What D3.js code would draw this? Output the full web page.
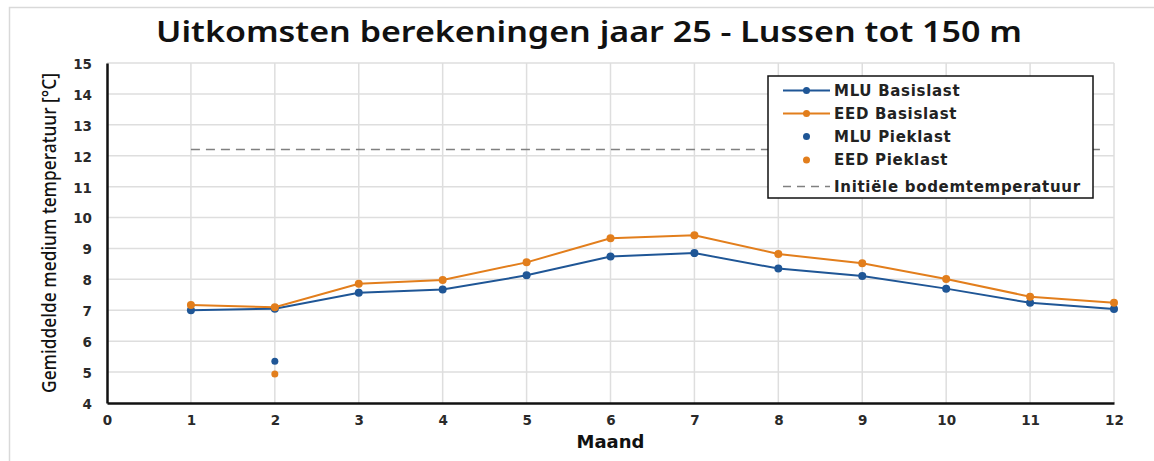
<!DOCTYPE html>
<html>
<head>
<meta charset="utf-8">
<script src="https://cdn.jsdelivr.net/npm/d3@7"></script>
<style>
  body { margin: 0; background: #fff; }
  text { font-family: "DejaVu Sans", Verdana, sans-serif; }
</style>
</head>
<body>
<div id="chart"></div>
<script>
// months on the x axis
var months = [1, 2, 3, 4, 5, 6, 7, 8, 9, 10, 11, 12];
// mean fluid temperature, base load
var mluBasis = [7.0, 7.05, 7.57, 7.67, 8.13, 8.74, 8.85, 8.35, 8.11, 7.70, 7.24, 7.04];
var eedBasis = [7.17, 7.1, 7.86, 7.98, 8.55, 9.33, 9.43, 8.82, 8.52, 8.01, 7.44, 7.24];
// peak load points (month 2 only)
var mluPiek = [{ m: 2, v: 5.35 }];
var eedPiek = [{ m: 2, v: 4.94 }];
// initial ground temperature
var initTemp = [{ m: 1, v: 12.2 }, { m: 11.87, v: 12.2 }];
var xTicks = d3.range(0, 13);
var yTicks = d3.range(4, 16);

var blue = "#1f5696", orange = "#e27e1c";

var W = 1154, H = 461;
var margin = { top: 63, right: 40, bottom: 58, left: 107 },
    width = W - margin.left - margin.right,
    height = H - margin.top - margin.bottom;

var svg = d3.select("#chart").append("svg")
  .attr("width", W).attr("height", H);

// outer frame
svg.append("path")
  .attr("d", "M9.5," + H + "V7.5H" + W)
  .attr("fill", "none").attr("stroke", "#d9d9d9").attr("stroke-width", 1.5);

// title
svg.append("text")
  .attr("x", 589).attr("y", 42)
  .attr("text-anchor", "middle")
  .attr("textLength", 866).attr("lengthAdjust", "spacingAndGlyphs")
  .style("font-family", "'Noto Sans', sans-serif")
  .style("font-weight", 600).style("font-size", "29px").attr("fill", "#111")
  .text("Uitkomsten berekeningen jaar 25 - Lussen tot 150 m");

var g = svg.append("g")
  .attr("transform", "translate(" + margin.left + "," + margin.top + ")");

var x = d3.scaleLinear().domain([0, 12]).range([0, width]);
var y = d3.scaleLinear().domain([4, 15]).range([height, 0]);

// gridlines
g.append("g").selectAll("line").data(yTicks.filter(d => d > 4)).enter().append("line")
  .attr("x1", 0).attr("x2", width)
  .attr("y1", d => y(d)).attr("y2", d => y(d))
  .attr("stroke", "#dedede").attr("stroke-width", 1.5);
g.append("g").selectAll("line").data(xTicks.filter(d => d > 0)).enter().append("line")
  .attr("x1", d => x(d)).attr("x2", d => x(d))
  .attr("y1", 0).attr("y2", height)
  .attr("stroke", "#dedede").attr("stroke-width", 1.5);

// axes
var xAxis = d3.axisBottom(x).tickValues(xTicks).tickSize(0).tickPadding(12);
var yAxis = d3.axisLeft(y).tickValues(yTicks).tickSize(0).tickPadding(15);

var gx = g.append("g").attr("transform", "translate(0," + height + ")").call(xAxis);
var gy = g.append("g").call(yAxis);
[gx, gy].forEach(function (a) {
  a.select(".domain").attr("stroke", "#111").attr("stroke-width", 2.5);
  a.selectAll("text").style("font-size", "13.5px").style("font-weight", "bold")
    .attr("fill", "#2a2a2a").style("font-family", "'DejaVu Sans', sans-serif");
});
gy.selectAll("text").attr("dy", "0.4em");

// axis titles
g.append("text")
  .attr("x", width / 2).attr("y", height + 45)
  .attr("text-anchor", "middle")
  .style("font-size", "18px").style("font-weight", "bold").attr("fill", "#111")
  .text("Maand");

g.append("text")
  .attr("transform", "translate(-51," + (height / 2) + ") rotate(-90)")
  .attr("text-anchor", "middle")
  .attr("textLength", 320).attr("lengthAdjust", "spacingAndGlyphs")
  .style("font-family", "'Noto Sans', sans-serif")
  .style("font-size", "19px").style("font-weight", 500).attr("fill", "#111")
  .text("Gemiddelde medium temperatuur [°C]");

// initial ground temperature
var line = d3.line().x(d => x(d.m)).y(d => y(d.v));
g.append("path").datum(initTemp)
  .attr("d", line).attr("fill", "none")
  .attr("stroke", "#808080").attr("stroke-width", 1.5)
  .attr("stroke-dasharray", "9,6");

// basis series
var series = [
  { name: "MLU Basislast", vals: mluBasis, color: blue },
  { name: "EED Basislast", vals: eedBasis, color: orange }
];
series.forEach(function (s) {
  var pts = months.map((m, i) => ({ m: m, v: s.vals[i] }));
  g.append("path").datum(pts)
    .attr("d", line).attr("fill", "none")
    .attr("stroke", s.color).attr("stroke-width", 2);
  g.append("g").selectAll("circle").data(pts).enter().append("circle")
    .attr("cx", d => x(d.m)).attr("cy", d => y(d.v))
    .attr("r", 4).attr("fill", s.color);
});

// peak points
[[mluPiek, blue], [eedPiek, orange]].forEach(function (p) {
  g.append("g").selectAll("circle").data(p[0]).enter().append("circle")
    .attr("cx", d => x(d.m)).attr("cy", d => y(d.v))
    .attr("r", 3.5).attr("fill", p[1]);
});

// legend
var legend = svg.append("g").attr("transform", "translate(768,76)");
legend.append("rect")
  .attr("width", 325).attr("height", 122)
  .attr("fill", "#fff").attr("stroke", "#111").attr("stroke-width", 1.5);

var legendItems = [
  { label: "MLU Basislast", color: blue, type: "line" },
  { label: "EED Basislast", color: orange, type: "line" },
  { label: "MLU Pieklast", color: blue, type: "dot" },
  { label: "EED Pieklast", color: orange, type: "dot" },
  { label: "Initiële bodemtemperatuur", color: "#808080", type: "dash" }
];
var rowY = [14.5, 37.5, 60.5, 84, 110.5];

legendItems.forEach(function (it, i) {
  var row = legend.append("g").attr("transform", "translate(0," + rowY[i] + ")");
  if (it.type !== "dot") {
    row.append("line").attr("x1", 15).attr("x2", 62)
      .attr("stroke", it.color).attr("stroke-width", it.type === "dash" ? 1.5 : 2)
      .attr("stroke-dasharray", it.type === "dash" ? "8,6" : null);
  }
  if (it.type !== "dash") {
    row.append("circle").attr("cx", 38.5).attr("r", 3.5).attr("fill", it.color);
  }
  row.append("text").attr("x", 66).attr("dy", "0.36em")
    .style("font-size", "15px").style("font-weight", "bold")
    .style("letter-spacing", "0.7px").attr("fill", "#222")
    .text(it.label);
});
</script>
</body>
</html>
